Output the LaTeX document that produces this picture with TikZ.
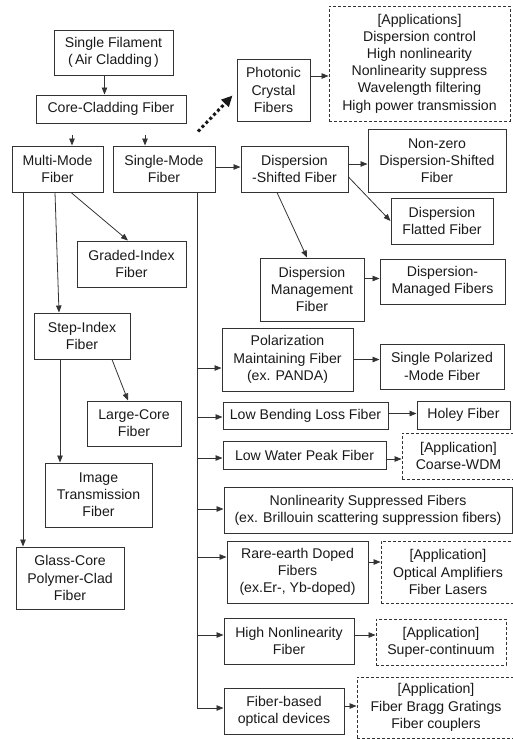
\documentclass[tikz,border=0pt]{standalone}
\usepackage{fontspec}
\setmainfont{Liberation Sans}
\usepackage{tikz}
\usetikzlibrary{arrows.meta, positioning, calc}
\newcommand{\boxfont}{\fontsize{14.1}{17.2}\selectfont}
\tikzset{
  >={Triangle[length=7pt, width=5.5pt]},
  sz/.style 2 args = {minimum width=#1pt, minimum height=#2pt},
  fiber/.style  = {draw=black!80, line width=1pt, rectangle, inner sep=1pt,
                   align=center, font=\boxfont, text=black!90},
  appl/.style   = {fiber, dash pattern=on 3pt off 2pt, line width=0.9pt},
  arrow/.style  = {->, line width=0.8pt, draw=black!80},
  link/.style   = {line width=0.8pt, draw=black!80},
  dotarrow/.style = {-{Triangle[length=11pt, width=10pt]}, line width=3pt,
                   dash pattern=on 3pt off 2.6pt, draw=black!90},
}

\begin{document}
\begin{tikzpicture}[x=1pt, y=-1pt]
  \useasboundingbox (0,0) rectangle (513,739);

  \node[fiber, sz={119}{45}]  (sf)    at (113.5,52.5) {Single Filament\\(\,Air Cladding\,)};
  \node[fiber, sz={150}{28}]  (ccf)   at (111,109)    {Core-Cladding Fiber};
  \node[fiber, sz={91}{46}]   (mmf)   at (57.5,169)   {Multi-Mode\\Fiber};
  \node[fiber, sz={102}{46}]  (smf)   at (164,169)    {Single-Mode\\Fiber};
  \node[fiber, sz={73}{62}]   (pcf)   at (273.5,90)   {Photonic\\Crystal\\Fibers};
  \node[appl,  sz={181}{115}] (app1)  at (419.5,63.5) {[Applications]\\Dispersion control\\High nonlinearity\\Nonlinearity suppress\\Wavelength filtering\\High power transmission};
  \node[fiber, sz={107}{46}]  (dsf)   at (294.5,169)  {Dispersion\\-Shifted Fiber};
  \node[fiber, sz={138}{63}]  (nzdsf) at (437,160.5)  {Non-zero\\Dispersion-Shifted\\Fiber};
  \node[fiber, sz={102}{46}]  (dff)   at (442,221)    {Dispersion\\Flatted Fiber};
  \node[fiber, sz={104}{63}]  (dmf)   at (312,289.5)  {Dispersion\\Management\\Fiber};
  \node[fiber, sz={125}{45}]  (dmfs)  at (442.5,281.5) {Dispersion-\\Managed Fibers};

  \node[fiber, sz={109}{46}]  (gif)   at (131.5,264)  {Graded-Index\\Fiber};
  \node[fiber, sz={96}{46}]   (sif)   at (82,336)     {Step-Index\\Fiber};
  \node[fiber, sz={94}{45}]   (lcf)   at (134,423.5)  {Large-Core\\Fiber};
  \node[fiber, sz={107}{64}]  (itf)   at (98.5,495)   {Image\\Transmission\\Fiber};
  \node[fiber, sz={108}{62}]  (gcf)   at (70,578)     {Glass-Core\\Polymer-Clad\\Fiber};

  \node[fiber, sz={131}{63}]  (pmf)   at (287.5,359.5) {Polarization\\Maintaining Fiber\\(ex. PANDA)};
  \node[fiber, sz={124}{45}]  (spmf)  at (442,366.5)  {Single Polarized\\-Mode Fiber};
  \node[fiber, sz={165}{27}]  (lblf)  at (305.5,415.5) {Low Bending Loss Fiber};
  \node[fiber, sz={93}{28}]   (hf)    at (463.5,415)  {Holey Fiber};
  \node[fiber, sz={163}{28}]  (lwpf)  at (304.5,455)  {Low Water Peak Fiber};
  \node[appl,  sz={113}{46}]  (app2)  at (458.5,456)  {[Application]\\Coarse-WDM};
  \node[fiber, sz={288}{46}]  (nsf)   at (368,510)    {Nonlinearity Suppressed Fibers\\(ex. Brillouin scattering suppression fibers)};
  \node[fiber, sz={141}{62}]  (rdf)   at (297.5,572)  {Rare-earth Doped\\Fibers\\(ex.Er-, Yb-doped)};
  \node[appl,  sz={134}{62}]  (app3)  at (448,572)    {[Application]\\Optical Amplifiers\\Fiber Lasers};
  \node[fiber, sz={130}{46}]  (hnf)   at (289,641)    {High Nonlinearity\\Fiber};
  \node[appl,  sz={130}{46}]  (app4)  at (441,642)    {[Application]\\Super-continuum};
  \node[fiber, sz={120}{46}]  (fbod)  at (284,711)    {Fiber-based\\optical devices};
  \node[appl,  sz={158}{61}]  (app5)  at (436,707.5)  {[Application]\\Fiber Bragg Gratings\\Fiber couplers};

  \coordinate (c1)  at (72,0);
  \coordinate (c2)  at (145,0);
  \coordinate (bus) at (197,0);

  \draw[arrow] ([xshift=-9pt]sf.south) -- ([xshift=-9pt]sf.south |- ccf.north);
  \draw[arrow, shorten <=11pt] (ccf.south -| c1) -- (mmf.north -| c1);
  \draw[arrow, shorten <=11pt] (ccf.south -| c2) -- (smf.north -| c2);
  \draw[dotarrow] ([shift={(34pt,14pt)}]smf.north) -- ([shift={(-4pt,26pt)}]pcf.south west);
  \draw[arrow] ([yshift=14pt]pcf.east) -- ([yshift=14pt]pcf.east -| app1.west);

  \draw[arrow] ([yshift=2pt]smf.east) -- ([yshift=2pt]dsf.west);
  \draw[arrow] ([yshift=5pt]dsf.east) -- ([yshift=5pt]dsf.east -| nzdsf.west);
  \draw[arrow] ([yshift=-8pt]dsf.east) -- (dff.west);
  \draw[arrow] ([xshift=-17.5pt]dsf.south) -- ([xshift=-5pt]dmf.north);
  \draw[arrow] ([yshift=11pt]dmf.east) -- ([yshift=11pt]dmf.east -| dmfs.west);

  \draw[arrow] ([xshift=13.5pt]mmf.south) -- ([xshift=-3.5pt]gif.north);
  \draw[arrow] ([xshift=-2.5pt]mmf.south) -- ([xshift=-23pt]sif.north);
  \draw[arrow] ([xshift=30pt]sif.south) -- ([xshift=-6pt]lcf.north);
  \draw[arrow] ([xshift=-22pt]sif.south) -- ([xshift=-22pt]sif.south |- itf.north);
  \draw[arrow] ([xshift=-34.5pt]mmf.south) -- ([xshift=-34.5pt]mmf.south |- gcf.north);

  \foreach \n/\dy in {pmf/-8.5pt, lblf/-1.5pt, lwpf/-3pt, nsf/1pt, rdf/15pt, hnf/6pt, fbod/3pt} {
    \coordinate (\n-in) at ([yshift=\dy]\n.west);
    \draw[arrow] (bus |- \n-in) -- (\n-in);
  }
  \draw[link] (smf.south -| bus) -- (bus |- fbod-in);

  \draw[arrow] (pmf.east) -- (pmf.east -| spmf.west);
  \draw[arrow] ([yshift=2pt]lblf.east) -- ([yshift=2pt]lblf.east -| hf.west);
  \draw[arrow] ([yshift=-4pt]lwpf.east) -- ([yshift=-4pt]lwpf.east -| app2.west);
  \draw[arrow] ([yshift=10pt]rdf.east) -- ([yshift=10pt]rdf.east -| app3.west);
  \draw[arrow] ([yshift=6pt]hnf.east) -- ([yshift=6pt]hnf.east -| app4.west);
  \draw[arrow] ([yshift=5pt]fbod.east) -- ([yshift=5pt]fbod.east -| app5.west);
\end{tikzpicture}
\end{document}
